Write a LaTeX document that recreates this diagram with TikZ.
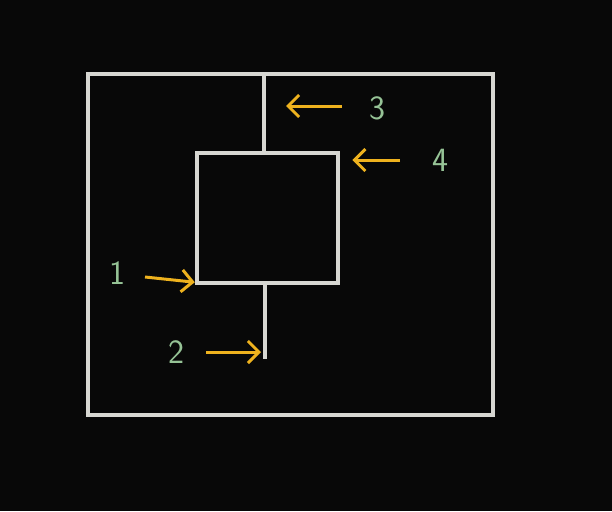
\documentclass[tikz,border=0pt]{standalone}
\usepackage{fontspec}
\usepackage{tikz}
\usetikzlibrary{arrows.meta, positioning}
\definecolor{board}{RGB}{8,8,8}
\definecolor{chalk}{RGB}{215,215,210}
\definecolor{chalkyellow}{RGB}{238,178,30}
\definecolor{chalkgreen}{RGB}{150,195,150}
\tikzstyle{chalkbox} = [draw=chalk, line width=4.5pt, rectangle, inner sep=0pt]
\tikzstyle{stem} = [draw=chalk, line width=4.5pt]
\tikzstyle{pointer} = [draw=chalkyellow, line width=3pt, -{Straight Barb[length=11pt, width=22pt, line width=3pt]}]
\tikzstyle{num} = [text=chalkgreen, font=\sffamily\fontsize{34}{34}\selectfont, inner sep=0pt]

\begin{document}
\begin{tikzpicture}[x=1pt, y=-1pt]
		\fill[board] (0,0) rectangle (612,511);
		\useasboundingbox (0,0) rectangle (612,511);
		\node[chalkbox, minimum width=405pt, minimum height=341pt] (outer) at (290.5,244.5) {};
		\node[chalkbox, minimum width=141pt, minimum height=130pt] (inner) at (267.5,218) {};
		\coordinate (topjoin) at ([xshift=-3.5pt]inner.north);
		\coordinate (botjoin) at ([xshift=-2.5pt]inner.south);
		\coordinate (botend) at (265,359);
		\draw[stem] (topjoin) -- (topjoin |- outer.north);
		\draw[stem] (botjoin) -- (botend);
		\node[num] (l3) at (377,108) {3};
		\node[num] (l4) at (440,160) {4};
		\node[num] (l1) at (117,273) {1};
		\node[num] (l2) at (176,352) {2};
		\coordinate (a3) at (342,106);
		\coordinate (a4) at (400,160);
		\coordinate (a1) at (145,277);
		\coordinate (a2) at (206,352);
		\draw[pointer] (a3) -- ([xshift=22pt]topjoin |- a3);
		\draw[pointer] (a4) -- ([xshift=12pt]inner.north east |- a4);
		\draw[pointer] (a1) -- ([yshift=3pt]inner.south west);
		\draw[pointer] (a2) -- ([xshift=-4pt]botend |- a2);
	\end{tikzpicture}
\end{document}
